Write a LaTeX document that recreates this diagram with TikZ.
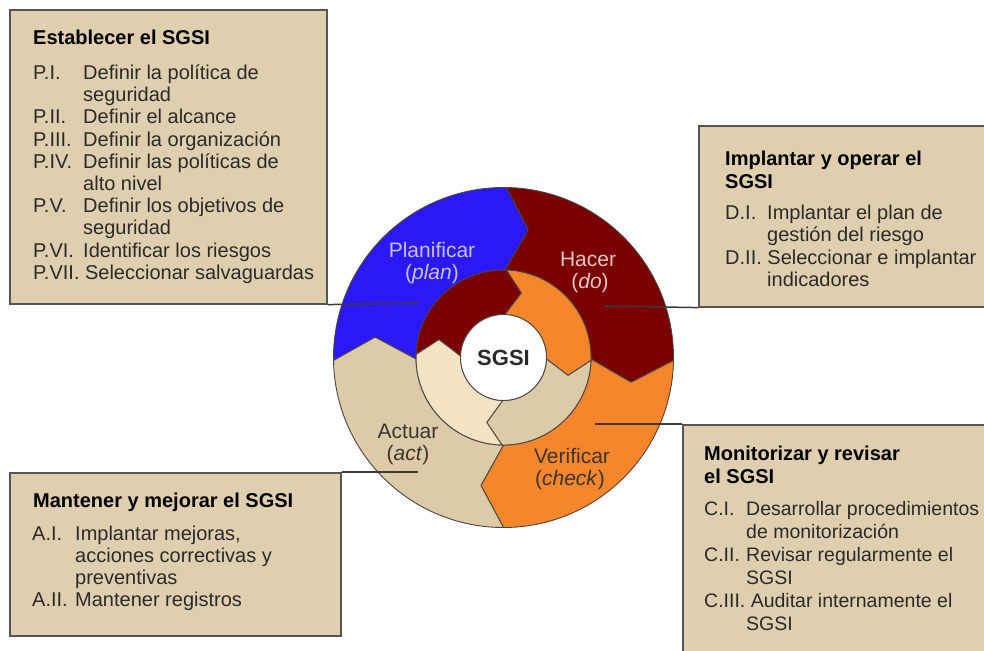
\documentclass[tikz,border=0pt]{standalone}
\usepackage{fontspec}
\setmainfont{Liberation Sans}

\definecolor{boxfill}{HTML}{DFCFAF}
\definecolor{boxline}{HTML}{555555}
\definecolor{pblue}{HTML}{2B18F5}
\definecolor{dred}{HTML}{7A0000}
\definecolor{orng}{HTML}{F5862B}
\definecolor{tanc}{HTML}{DDCBA8}
\definecolor{cream}{HTML}{F3E3C3}
\definecolor{segline}{HTML}{4A4444}
\definecolor{leadc}{HTML}{3A3A3A}
\definecolor{txtgray}{HTML}{2A2A2A}
\definecolor{lavtext}{HTML}{C8C0FF}
\definecolor{rosetext}{HTML}{E6C6C6}
\definecolor{darktext}{HTML}{3C3430}

% label column: pads a short label to a fixed width, lets a long one run on
\newsavebox\labbox
\newcommand\lablead[2]{\sbox\labbox{#2\ }\ifdim\wd\labbox<#1\relax\makebox[#1][l]{\usebox\labbox}\else\usebox\labbox\fi}

\begin{document}
\begin{tikzpicture}[x=1pt,y=-1pt,
  box/.style={draw=boxline, line width=1.6pt, fill=boxfill, anchor=north west, inner sep=0pt},
  seg/.style={draw=segline, line width=0.9pt, line join=round},
  item/.style={anchor=base west, inner sep=0pt, font=\fontsize{20}{22}\selectfont, text=txtgray},
  head/.style={anchor=base west, inner sep=0pt, font=\fontsize{20}{22}\selectfont\bfseries, text=black},
  wlabel/.style={anchor=base, inner sep=0pt, font=\fontsize{21}{22}\selectfont},
  leader/.style={draw=leadc, line width=1.5pt}
]
\useasboundingbox (0,0) rectangle (984,650);
\fill[white] (0,0) rectangle (984,650);
\clip (0,0) rectangle (984,650);

% ---------- text boxes ----------
\node[box, minimum width=317pt, minimum height=294pt] (b1) at (9,9) {};
\node[box, minimum width=300pt, minimum height=181pt] (b2) at (698,125) {};
\node[box, minimum width=320pt, minimum height=240pt] (b3) at (682,424) {};
\node[box, minimum width=331pt, minimum height=163pt] (b4) at (9,472) {};

% ---------- PDCA wheel ----------
\begin{scope}[shift={(503.5,357.5)}, yscale=-1]
  \foreach \c/\a/\b in {pblue/181/89, dred/89/-1, orng/-1/-90, tanc/270/181}
    \filldraw[seg, fill=\c] (\a:170) arc[start angle=\a, end angle=\b, radius=170]
      -- (\b-10:130) -- (\b:87.5) arc[start angle=\b, end angle=\a, radius=87.5]
      -- (\a-10:130) -- cycle;
  \foreach \c/\a/\b in {dred/178/88, orng/88/-2, tanc/-2/-91, cream/269/178}
    \filldraw[seg, fill=\c] (\a:87.5) arc[start angle=\a, end angle=\b, radius=87.5]
      -- (\b-13.5:67) -- (\b:43) arc[start angle=\b, end angle=\a, radius=43]
      -- (\a-13.5:67) -- cycle;
  \node[circle, draw=segline, line width=0.9pt, fill=white, minimum size=86pt, inner sep=0pt,
        font=\fontsize{22}{24}\selectfont\bfseries, text=txtgray] (core) at (0,0) {SGSI};
\end{scope}

% wheel labels
\node[wlabel, text=lavtext] (plan1) at (432,257) {Planificar};
\node[wlabel, text=lavtext] (plan2) at (432,279) {(\textit{plan})};
\node[wlabel, text=rosetext] (do1) at (588,266) {Hacer};
\node[wlabel, text=rosetext] (do2) at (590,288) {(\textit{do})};
\node[wlabel, text=darktext] (chk1) at (572,463) {Verificar};
\node[wlabel, text=darktext] (chk2) at (570,485) {(\textit{check})};
\node[wlabel, text=darktext] (act1) at (408,438) {Actuar};
\node[wlabel, text=darktext] (act2) at (408,460) {(\textit{act})};

% ---------- leaders from the wheel to the boxes ----------
\coordinate (e1) at (418,303);
\coordinate (e2) at (603,306);
\coordinate (e3) at (595,424);
\coordinate (e4) at (418,472);
\draw[leader] (b1.south east) -- (e1);
\draw[leader] (e2) -- (b2.south west);
\draw[leader] (e3) -- (b3.north west);
\draw[leader] (e4) -- (b4.north east);

% ---------- box contents ----------
% Plan
\node[head] (h1) at (33,45) {Establecer el SGSI};
\foreach \lab/\txt [count=\i from 0] in {
    P.I./Definir la política de, /seguridad, P.II./Definir el alcance,
    P.III./Definir la organización, P.IV./Definir las políticas de, /alto nivel,
    P.V./Definir los objetivos de, /seguridad, P.VI./Identificar los riesgos,
    P.VII./Seleccionar salvaguardas}
  \node[item] (p\i) at (33,79.5+22.2*\i) {\lablead{50pt}{\lab}\txt};

% Do
\node[head] (h2a) at (725,165) {Implantar y operar el};
\node[head] (h2b) at (725,188) {SGSI};
\foreach \lab/\txt [count=\i from 0] in {
    D.I./Implantar el plan de, /gestión del riesgo,
    D.II./Seleccionar e implantar, /indicadores}
  \node[item] (d\i) at (725,219+22.5*\i) {\lablead{42pt}{\lab}\txt};

% Check
\node[head] (h3a) at (704,460) {Monitorizar y revisar};
\node[head] (h3b) at (704,483.5) {el SGSI};
\foreach \lab/\txt [count=\i from 0] in {
    C.I./Desarrollar procedimientos, /de monitorización,
    C.II./Revisar regularmente el, /SGSI,
    C.III./Auditar internamente el, /SGSI}
  \node[item, font=\fontsize{19.5}{22}\selectfont] (c\i) at (704,515+23*\i) {\lablead{42pt}{\lab}\txt};

% Act
\node[head] (h4) at (33,507) {Mantener y mejorar el SGSI};
\foreach \lab/\txt [count=\i from 0] in {
    A.I./{Implantar mejoras,}, /acciones correctivas y, /preventivas,
    A.II./Mantener registros}
  \node[item] (a\i) at (32,540+22.2*\i) {\lablead{43pt}{\lab}\txt};
\end{tikzpicture}
\end{document}
